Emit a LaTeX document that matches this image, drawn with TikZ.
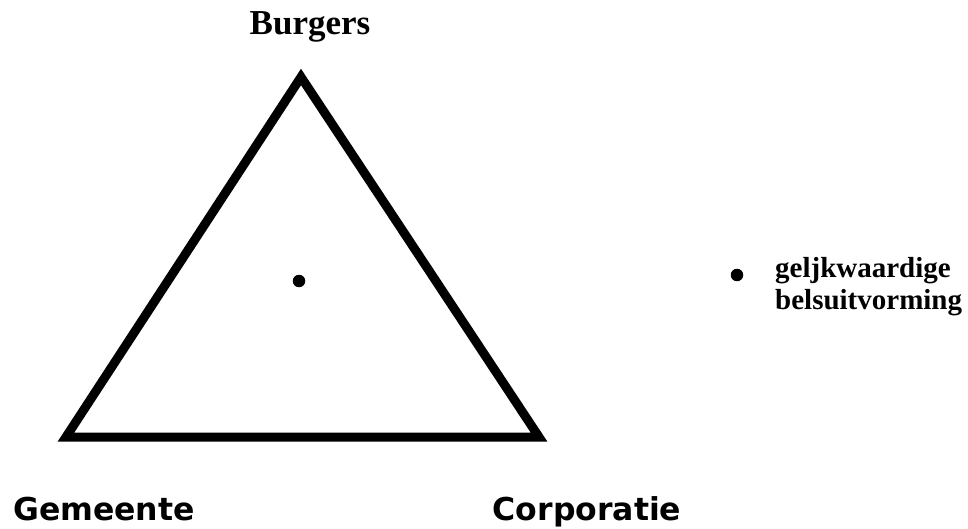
\documentclass[tikz,border=0pt]{standalone}
\usepackage{fontspec}
\setmainfont{Liberation Serif}
\newfontfamily\labsans{DejaVu Sans}
\begin{document}
\begin{tikzpicture}[x=1pt,y=1pt,
  edge/.style={line width=9pt,line join=miter,miter limit=10},
  dotmark/.style={circle,fill=black,inner sep=0pt,minimum size=12.5pt},
  serifbig/.style={font=\fontsize{35}{40}\selectfont\bfseries},
  serifsmall/.style={font=\fontsize{29}{32}\selectfont\bfseries},
  sansbig/.style={font=\labsans\fontsize{31.5}{36}\selectfont\bfseries}]
\useasboundingbox (0,0) rectangle (968,-529);
\coordinate (top) at (301,-77);
\coordinate (bl) at (66,-437);
\coordinate (br) at (539,-437);
\draw[edge] (top) -- (bl) -- (br) -- cycle;
\node[dotmark] (center) at (299,-281) {};
\node[dotmark] (legdot) at (737,-275) {};
\node[serifbig,anchor=base] (burgers) at (310,-35) {Burgers};
\node[serifsmall,anchor=base west,inner sep=0pt] (leg1) at (775,-277) {geljkwaardige};
\node[serifsmall,anchor=base west,inner sep=0pt] (leg2) at (775,-309) {belsuitvorming};
\node[sansbig,anchor=base] (gem) at (104,-520) {Gemeente};
\node[sansbig,anchor=base] (corp) at (587,-520) {Corporatie};
\end{tikzpicture}
\end{document}
